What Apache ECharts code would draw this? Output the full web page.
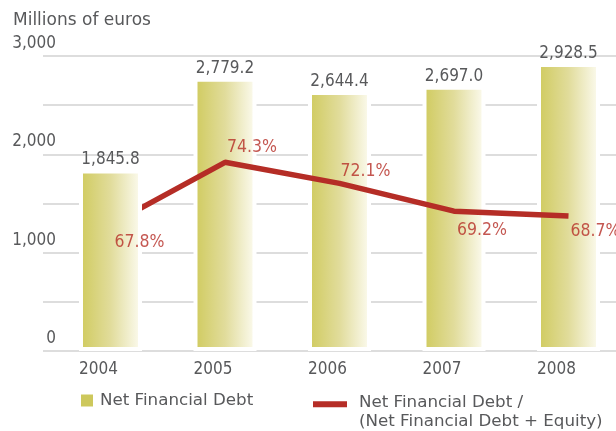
<!DOCTYPE html>
<html>
<head>
<meta charset="utf-8">
<script src="https://cdn.jsdelivr.net/npm/echarts@6/dist/echarts.min.js"></script>
<style>
html,body{margin:0;padding:0;background:#fff;}
#c{width:616px;height:431px;}
</style>
</head>
<body>
<div id="c"></div>
<script>
var years = ['2004', '2005', '2006', '2007', '2008'];
var netDebt = [1845.8, 2779.2, 2644.4, 2697.0, 2928.5];
var ratioPct = [67.8, 74.3, 72.1, 69.2, 68.7];
var yTicks = [0, 1000, 2000, 3000];
var barName = 'Net Financial Debt';
var lineNameLines = ['Net Financial Debt /', '(Net Financial Debt + Equity)'];
var lineName = lineNameLines.join('\n');
var unitTitle = 'Millions of euros';

var GREY = '#58595b';
var RED = '#b52d26';
var OLIVE = '#cdc85c';
var NUMFONT = '"DejaVu Sans Condensed", "DejaVu Sans", sans-serif';
var TXTFONT = '"DejaVu Sans", sans-serif';

function fmt(v, d) {
  return v.toLocaleString('en-US', {minimumFractionDigits: d, maximumFractionDigits: d});
}

var barGrad = {
  type: 'linear', x: 0, y: 0, x2: 1, y2: 0,
  colorStops: [{offset: 0, color: '#cfca5c'}, {offset: 0.5, color: '#e1dc9b'}, {offset: 1, color: '#fdfcf3'}]
};

var first = netDebt.map(function (v, i) { return i === 0 ? v : '-'; });
var rest = netDebt.map(function (v, i) { return i === 0 ? '-' : v; });
var labelOffsets = [[29, 18], [27, -15], [26, -12], [28, 19], [27, 16]];

var barCommon = {
  type: 'bar', name: barName, xAxisIndex: 1, yAxisIndex: 1,
  barWidth: 63, barGap: '-100%',
  itemStyle: {color: barGrad, borderColor: '#ffffff', borderWidth: 4},
  label: {
    show: true, position: 'top', distance: 1,
    color: GREY, fontFamily: NUMFONT, fontSize: 17,
    formatter: function (p) { return fmt(p.value, 1); }
  },
  emphasis: {disabled: true},
  animation: false
};

var option = {
  animation: false,
  title: {
    text: unitTitle, left: 8, top: 7,
    textStyle: {color: GREY, fontFamily: TXTFONT, fontSize: 17, fontWeight: 'normal'}
  },
  grid: [
    {left: 43, right: 0, top: 56, bottom: 80, outerBoundsMode: 'none'},
    {left: 53.25, right: -9.75, top: 56, bottom: 80, outerBoundsMode: 'none'}
  ],
  legend: [
    {
      data: [{name: barName, itemStyle: {color: OLIVE}}],
      left: 74, top: 387, icon: 'rect', itemWidth: 14, itemHeight: 14, itemGap: 0,
      selectedMode: false,
      textStyle: {color: GREY, fontFamily: TXTFONT, fontSize: 16.7, padding: [0, 0, 0, 1]}
    },
    {
      data: [{name: lineName, itemStyle: {color: RED}}],
      left: 308, top: 372, icon: 'rect', itemWidth: 34, itemHeight: 6,
      selectedMode: false,
      formatter: function () {
        return '{sp| }\n{t|' + lineNameLines[0] + '}\n{t|' + lineNameLines[1] + '}';
      },
      textStyle: {
        color: GREY, fontFamily: TXTFONT, fontSize: 16.7,
        rich: {
          sp: {fontSize: 2, lineHeight: 16.6, height: 16.6},
          t: {color: GREY, fontFamily: TXTFONT, fontSize: 16.7, lineHeight: 19, padding: [0, 0, 0, 7]}
        }
      }
    }
  ],
  xAxis: [
    {gridIndex: 0, type: 'value', min: 0, max: 1, show: false},
    {
      gridIndex: 1, type: 'category', data: years,
      axisLine: {show: false}, axisTick: {show: false},
      axisLabel: {
        color: GREY, fontFamily: NUMFONT, fontSize: 17, margin: 10,
        padding: [0, 24, 0, 0]
      }
    }
  ],
  yAxis: [
    {
      gridIndex: 0, type: 'value', min: 0, max: 3000, interval: 500,
      axisLine: {show: false}, axisTick: {show: false},
      splitLine: {lineStyle: {color: '#d2d2d2', width: 1.5}},
      axisLabel: {
        color: GREY, fontFamily: NUMFONT, fontSize: 17,
        align: 'right', verticalAlign: 'bottom', margin: -13, padding: [0, 0, 4, 0],
        formatter: function (v) { return yTicks.indexOf(v) >= 0 ? fmt(v, 0) : ''; }
      }
    },
    {gridIndex: 1, type: 'value', min: 0, max: 3000, show: false},
    {gridIndex: 1, type: 'value', min: 54.6, max: 85.4, show: false}
  ],
  series: [
    Object.assign({}, barCommon, {data: rest, z: 1}),
    {
      type: 'line', name: lineName, xAxisIndex: 1, yAxisIndex: 2, data: ratioPct,
      z: 2, symbol: 'none', lineStyle: {color: RED, width: 5.5, cap: 'butt'},
      itemStyle: {color: RED}, emphasis: {disabled: true}
    },
    Object.assign({}, barCommon, {data: first, z: 3}),
    {
      type: 'scatter', xAxisIndex: 1, yAxisIndex: 2, z: 4, symbolSize: 0,
      data: ratioPct.map(function (v, i) {
        return {value: v, label: {offset: labelOffsets[i]}};
      }),
      label: {
        show: true, position: 'inside', color: RED, fontFamily: NUMFONT, fontSize: 17.5,
        formatter: function (p) { return fmt(p.value, 1) + '%'; }
      },
      silent: true, emphasis: {disabled: true}
    }
  ]
};

var chart = echarts.init(document.getElementById('c'), null, {renderer: 'canvas'});
chart.setOption(option);
</script>
</body>
</html>
